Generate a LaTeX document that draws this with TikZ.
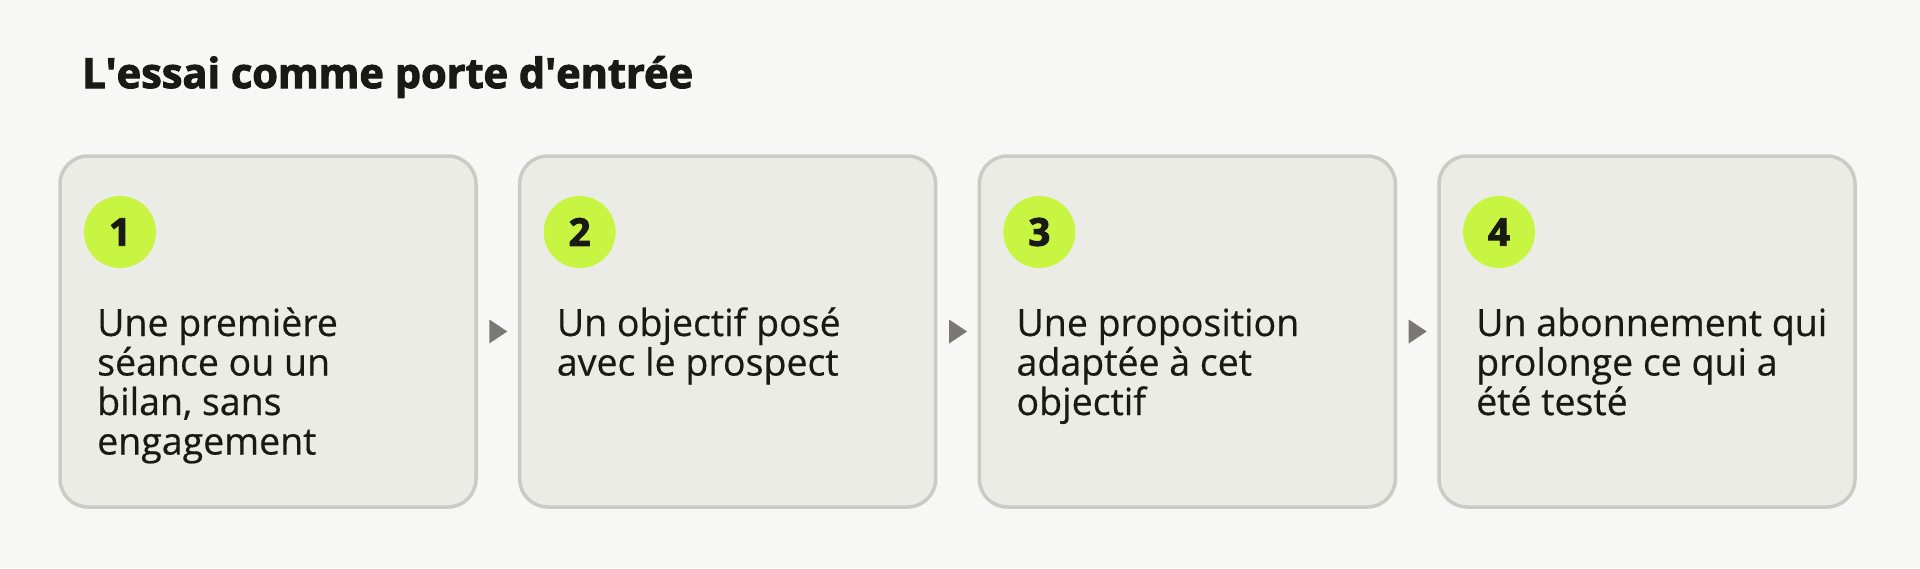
\documentclass[tikz,border=0pt]{standalone}
\usepackage{fontspec}
\setmainfont{Open Sans}
\usetikzlibrary{calc}
\definecolor{bgc}{HTML}{F7F7F5}
\definecolor{boxfill}{HTML}{ECECE7}
\definecolor{boxline}{HTML}{CBCAC5}
\definecolor{lime}{HTML}{C8F542}
\definecolor{ink}{HTML}{1A1A14}
\definecolor{arrowc}{HTML}{7A7872}
\tikzset{
  x=1pt,y=-1pt,
  stepbox/.style={draw=boxline, fill=boxfill, line width=3.5pt, rounded corners=28pt,
    minimum width=416pt, minimum height=351pt, inner sep=0pt, outer sep=0pt},
  badge/.style={circle, fill=lime, minimum size=72pt, inner sep=0pt, text=ink,
    font=\fontsize{38.5}{38.5}\selectfont\bfseries\addfontfeature{FakeBold=2.5}},
  body/.style={anchor=base west, align=left, inner sep=0pt, text=ink,
    font=\fontsize{37.5}{39.5}\selectfont\addfontfeature{FakeBold=0.5}},
  flowtip/.style={fill=arrowc},
}
\begin{document}
\begin{tikzpicture}
\fill[bgc] (0,0) rectangle (1920,568);
\useasboundingbox (0,0) rectangle (1920,568);
\node[anchor=base west, inner sep=0pt, text=ink, font=\fontsize{41.5}{41.5}\selectfont\bfseries\addfontfeature{FakeBold=2.5}] (title) at (82,88) {L\textquotesingle essai comme porte d\textquotesingle entrée};
\foreach \i/\lbl/\n/\txt in {0/1/3/{Une première\\séance ou un\\bilan, sans\\engagement},
                          1/2/1/{Un objectif posé\\avec le prospect},
                          2/3/2/{Une proposition\\adaptée à cet\\objectif},
                          3/4/2/{Un abonnement qui\\prolonge ce qui a\\été testé}}{
  \node[stepbox] (b\lbl) at (268+459.67*\i,331.5) {};
  \node[badge] (c\lbl) at (120+459.67*\i,232) {\lbl};
  \node[body] (t\lbl) at (97+459.67*\i,336+39.5*\n) {\txt};
}
\foreach \a/\b in {1/2,2/3,3/4}{
  \coordinate (m\a) at ($(b\a.east)!0.5!(b\b.west)$);
  \fill[flowtip] (m\a) ++(-8.5,-12) -- ++(18,12) -- ++(-18,12) -- cycle;
}
\end{tikzpicture}
\end{document}
